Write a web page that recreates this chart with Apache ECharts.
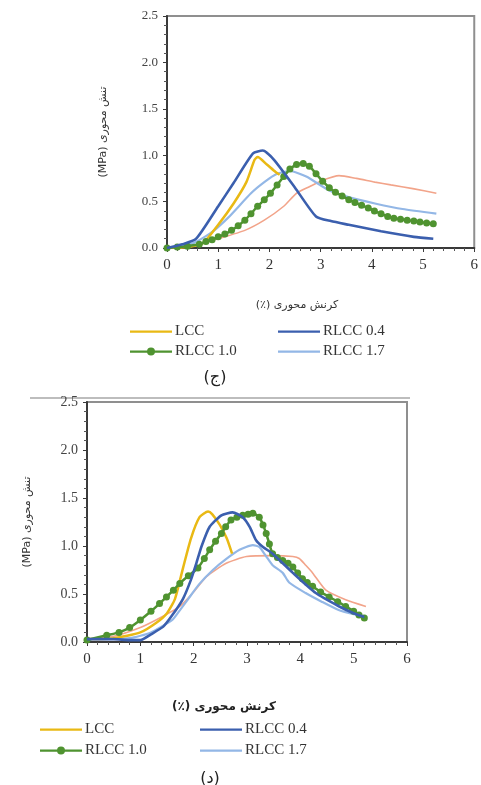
<!DOCTYPE html>
<html>
<head>
<meta charset="utf-8">
<script src="https://cdn.jsdelivr.net/npm/echarts@6/dist/echarts.min.js"></script>
<style>
  html, body { margin: 0; padding: 0; background: #fff; }
  #chart { width: 481px; height: 785px; }
</style>
</head>
<body>
<div id="chart"></div>
<script>
// Stress–strain curves, panel (ج)
const topLCC = [[0,0],[0.4,0.01],[0.7,0.05],[1.0,0.25],[1.3,0.48],[1.55,0.71],[1.71,0.95],[1.77,0.98],[1.95,0.9],[2.12,0.82],[2.2,0.79]];
const topRLCC04 = [[0,0],[0.3,0.04],[0.57,0.1],[1.0,0.45],[1.3,0.7],[1.68,1.02],[1.87,1.05],[2.09,0.95],[2.5,0.65],[2.91,0.34],[3.2,0.29],[3.55,0.25],[4.18,0.18],[4.82,0.12],[5.2,0.1]];
const topRLCC10 = [[0,0],[0.2,0.01],[0.4,0.02],[0.63,0.04],[0.76,0.07],[0.88,0.09],[1.0,0.12],[1.13,0.15],[1.26,0.19],[1.39,0.24],[1.52,0.3],[1.64,0.37],[1.77,0.45],[1.9,0.52],[2.02,0.59],[2.15,0.68],[2.28,0.77],[2.4,0.85],[2.53,0.9],[2.66,0.91],[2.78,0.88],[2.91,0.8],[3.04,0.72],[3.17,0.65],[3.29,0.6],[3.42,0.56],[3.55,0.52],[3.67,0.49],[3.8,0.46],[3.93,0.43],[4.05,0.4],[4.18,0.37],[4.31,0.34],[4.43,0.32],[4.56,0.31],[4.69,0.3],[4.82,0.29],[4.94,0.28],[5.07,0.27],[5.2,0.26]];
const topRLCC17 = [[0,0],[0.5,0.05],[0.85,0.16],[1.2,0.33],[1.64,0.59],[1.9,0.71],[2.15,0.8],[2.4,0.83],[2.72,0.77],[3.17,0.62],[3.6,0.54],[4.06,0.48],[4.6,0.42],[5.26,0.37]];
const topLC = [[0,0],[0.5,0.02],[1.0,0.1],[1.52,0.19],[1.9,0.3],[2.28,0.45],[2.53,0.59],[2.78,0.66],[3.04,0.73],[3.36,0.78],[3.7,0.75],[4.06,0.71],[4.37,0.68],[4.8,0.64],[5.26,0.59]];

// Stress–strain curves, panel (د)
const botLCC = [[0,0.03],[0.5,0.04],[1.0,0.1],[1.3,0.2],[1.5,0.3],[1.65,0.45],[1.8,0.77],[1.95,1.08],[2.11,1.3],[2.27,1.36],[2.35,1.33],[2.49,1.22],[2.62,1.08],[2.72,0.92]];
const botRLCC04 = [[0,0.03],[0.5,0.03],[0.8,0.02],[1.0,0.02],[1.2,0.08],[1.43,0.16],[1.6,0.28],[1.8,0.45],[1.95,0.65],[2.05,0.82],[2.15,1.0],[2.3,1.2],[2.52,1.32],[2.73,1.35],[2.92,1.3],[3.05,1.2],[3.17,1.06],[3.3,0.99],[3.48,0.92],[3.86,0.72],[4.29,0.51],[4.73,0.37],[5.0,0.3],[5.2,0.26]];
const botRLCC10 = [[0,0.02],[0.37,0.07],[0.6,0.1],[0.8,0.15],[1.0,0.23],[1.2,0.32],[1.36,0.4],[1.49,0.47],[1.62,0.54],[1.74,0.61],[1.9,0.69],[2.08,0.77],[2.2,0.87],[2.3,0.96],[2.41,1.05],[2.52,1.13],[2.6,1.2],[2.7,1.27],[2.81,1.3],[2.92,1.32],[3.02,1.33],[3.11,1.34],[3.23,1.3],[3.3,1.22],[3.36,1.13],[3.42,1.02],[3.48,0.92],[3.57,0.88],[3.67,0.85],[3.77,0.82],[3.86,0.78],[3.95,0.72],[4.04,0.66],[4.13,0.62],[4.23,0.58],[4.38,0.52],[4.54,0.47],[4.7,0.42],[4.85,0.37],[5.0,0.32],[5.1,0.28],[5.2,0.25]];
const botRLCC17 = [[0,0.03],[0.8,0.04],[1.2,0.1],[1.6,0.23],[1.74,0.33],[1.9,0.45],[2.1,0.6],[2.36,0.75],[2.6,0.86],[2.86,0.96],[3.11,1.01],[3.23,0.99],[3.35,0.9],[3.48,0.8],[3.67,0.72],[3.79,0.62],[4.1,0.51],[4.4,0.42],[4.73,0.33],[5.0,0.29],[5.2,0.27]];
const botLC = [[0,0.03],[0.5,0.06],[1.0,0.15],[1.4,0.26],[1.74,0.37],[2.0,0.52],[2.24,0.68],[2.61,0.82],[2.99,0.89],[3.48,0.9],[3.86,0.89],[3.98,0.87],[4.1,0.8],[4.23,0.72],[4.48,0.54],[4.85,0.44],[5.23,0.37]];

const xTicks = [0, 1, 2, 3, 4, 5, 6];
const yTicks = [0.0, 0.5, 1.0, 1.5, 2.0, 2.5];

// Axis titles; the unit part is written first so it lands on the left on canvas
const xTitle = '(٪) کرنش محوری';
const yTitle = '(MPa) تنش محوری';
const captions = ['(ج)', '(د)'];

const colors = {
  'LCC': '#e9b914',
  'RLCC 0.4': '#3b5fae',
  'RLCC 1.0': '#4f9330',
  'RLCC 1.7': '#93b7e6',
  'LC': '#f2a48a'
};

const serif = 'Liberation Serif';
const persian = 'DejaVu Sans';

// Legend glyphs in a 42x12 box: tiny corner anchors keep the box size fixed
const anchors = 'M0,0 L0.05,0 L0,0.05 Z M42,12 L41.95,12 L42,11.95 Z ';
const plainIcon = 'path://' + anchors + 'M0,5 L42,5 L42,7.2 L0,7.2 Z';
const dotIcon = 'path://' + anchors + 'M0,5 L42,5 L42,7.2 L0,7.2 Z M25,6 A4,4 0 1,1 17,6 A4,4 0 1,1 25,6 Z';

function xAxisCfg(gridIndex, fontSize) {
  return {
    type: 'value', gridIndex: gridIndex,
    min: xTicks[0], max: xTicks[xTicks.length - 1], interval: 1,
    axisLine: { show: true, onZero: false, lineStyle: { color: '#3a3a3a', width: 2 } },
    axisTick: { show: true, length: 4, lineStyle: { color: '#3a3a3a', width: 1 } },
    minorTick: { show: true, splitNumber: 5, length: 3, lineStyle: { color: '#555' } },
    splitLine: { show: false },
    axisLabel: { fontFamily: serif, fontSize: fontSize, color: '#333', margin: 10 }
  };
}
function yAxisCfg(gridIndex, fontSize) {
  return {
    type: 'value', gridIndex: gridIndex,
    min: yTicks[0], max: yTicks[yTicks.length - 1], interval: 0.5,
    axisLine: { show: true, onZero: false, lineStyle: { color: '#3a3a3a', width: 2 } },
    axisTick: { show: true, length: 4, lineStyle: { color: '#3a3a3a', width: 1 } },
    minorTick: { show: true, splitNumber: 5, length: 3, lineStyle: { color: '#555' } },
    splitLine: { show: false },
    axisLabel: { fontFamily: serif, fontSize: fontSize, color: '#444', margin: 9,
                 formatter: v => v.toFixed(1) }
  };
}

function lineSeries(name, data, idx, opts) {
  const s = {
    name: name, type: 'line', xAxisIndex: idx, yAxisIndex: idx,
    data: data, smooth: 0.2, symbol: 'none', z: 3,
    lineStyle: { color: colors[name], width: 2.5 },
    itemStyle: { color: colors[name] },
    emphasis: { disabled: true }
  };
  return Object.assign(s, opts || {});
}

function panelSeries(idx, lcc, r04, r10, r17, lc) {
  return [
    lineSeries('LC', lc, idx, { lineStyle: { color: colors['LC'], width: 1.6 }, z: 2 }),
    lineSeries('RLCC 1.7', r17, idx, { lineStyle: { color: colors['RLCC 1.7'], width: 2.2 } }),
    lineSeries('LCC', lcc, idx, {}),
    lineSeries('RLCC 1.0', r10, idx, {
      symbol: 'circle', symbolSize: 7, showSymbol: true, z: 4,
      lineStyle: { color: colors['RLCC 1.0'], width: 2.5 }
    }),
    lineSeries('RLCC 0.4', r04, idx, { z: 5, lineStyle: { color: colors['RLCC 0.4'], width: 2.6 } })
  ];
}

function legendItem(name) {
  return { name: name, icon: name === 'RLCC 1.0' ? dotIcon : plainIcon,
           itemStyle: { color: colors[name] } };
}

function legendCfg(left, top, gap, names) {
  return {
    left: left, top: top, orient: 'vertical', itemGap: gap, padding: 0,
    itemWidth: 42, itemHeight: 12, selectedMode: false,
    data: names.map(legendItem),
    textStyle: { fontFamily: serif, fontSize: 15, color: '#333', padding: [0, 0, 0, -2] }
  };
}

const chart = echarts.init(document.getElementById('chart'), null, { renderer: 'canvas' });

chart.setOption({
  animation: false,
  backgroundColor: '#fff',
  grid: [
    { left: 167, top: 16, width: 312, height: 232, show: true, borderColor: '#8f8f8f', borderWidth: 2, backgroundColor: '#fff' },
    { left: 87, top: 402, width: 320, height: 240, show: true, borderColor: '#8f8f8f', borderWidth: 2, backgroundColor: '#fff' }
  ],
  xAxis: [xAxisCfg(0, 15), xAxisCfg(1, 15)],
  yAxis: [yAxisCfg(0, 13), yAxisCfg(1, 14)],
  legend: [
    legendCfg(130, 324, 5, ['LCC', 'RLCC 1.0']),
    legendCfg(278, 324, 5, ['RLCC 0.4', 'RLCC 1.7']),
    legendCfg(40, 722, 6, ['LCC', 'RLCC 1.0']),
    legendCfg(200, 722, 6, ['RLCC 0.4', 'RLCC 1.7'])
  ],
  series: panelSeries(0, topLCC, topRLCC04, topRLCC10, topRLCC17, topLC)
    .concat(panelSeries(1, botLCC, botRLCC04, botRLCC10, botRLCC17, botLC)),
  graphic: [
    { type: 'text', x: 297, y: 305, style: { text: xTitle, font: '11px "' + persian + '"', fill: '#333', align: 'center', verticalAlign: 'middle' } },
    { type: 'text', x: 103, y: 132, rotation: Math.PI / 2, style: { text: yTitle, font: '11px "' + persian + '"', fill: '#333', align: 'center', verticalAlign: 'middle' } },
    { type: 'text', x: 215, y: 378, style: { text: captions[0], font: '16px "' + persian + '"', fill: '#222', align: 'center', verticalAlign: 'middle' } },
    { type: 'line', shape: { x1: 30, y1: 398, x2: 410, y2: 398 }, style: { stroke: '#bdbdbd', lineWidth: 2 } },
    { type: 'text', x: 224, y: 707, style: { text: xTitle, font: 'bold 12px "' + persian + '"', fill: '#222', align: 'center', verticalAlign: 'middle' } },
    { type: 'text', x: 27, y: 522, rotation: Math.PI / 2, style: { text: yTitle, font: '11px "' + persian + '"', fill: '#333', align: 'center', verticalAlign: 'middle' } },
    { type: 'text', x: 210, y: 779, style: { text: captions[1], font: '16px "' + persian + '"', fill: '#222', align: 'center', verticalAlign: 'middle' } }
  ]
});
</script>
</body>
</html>
